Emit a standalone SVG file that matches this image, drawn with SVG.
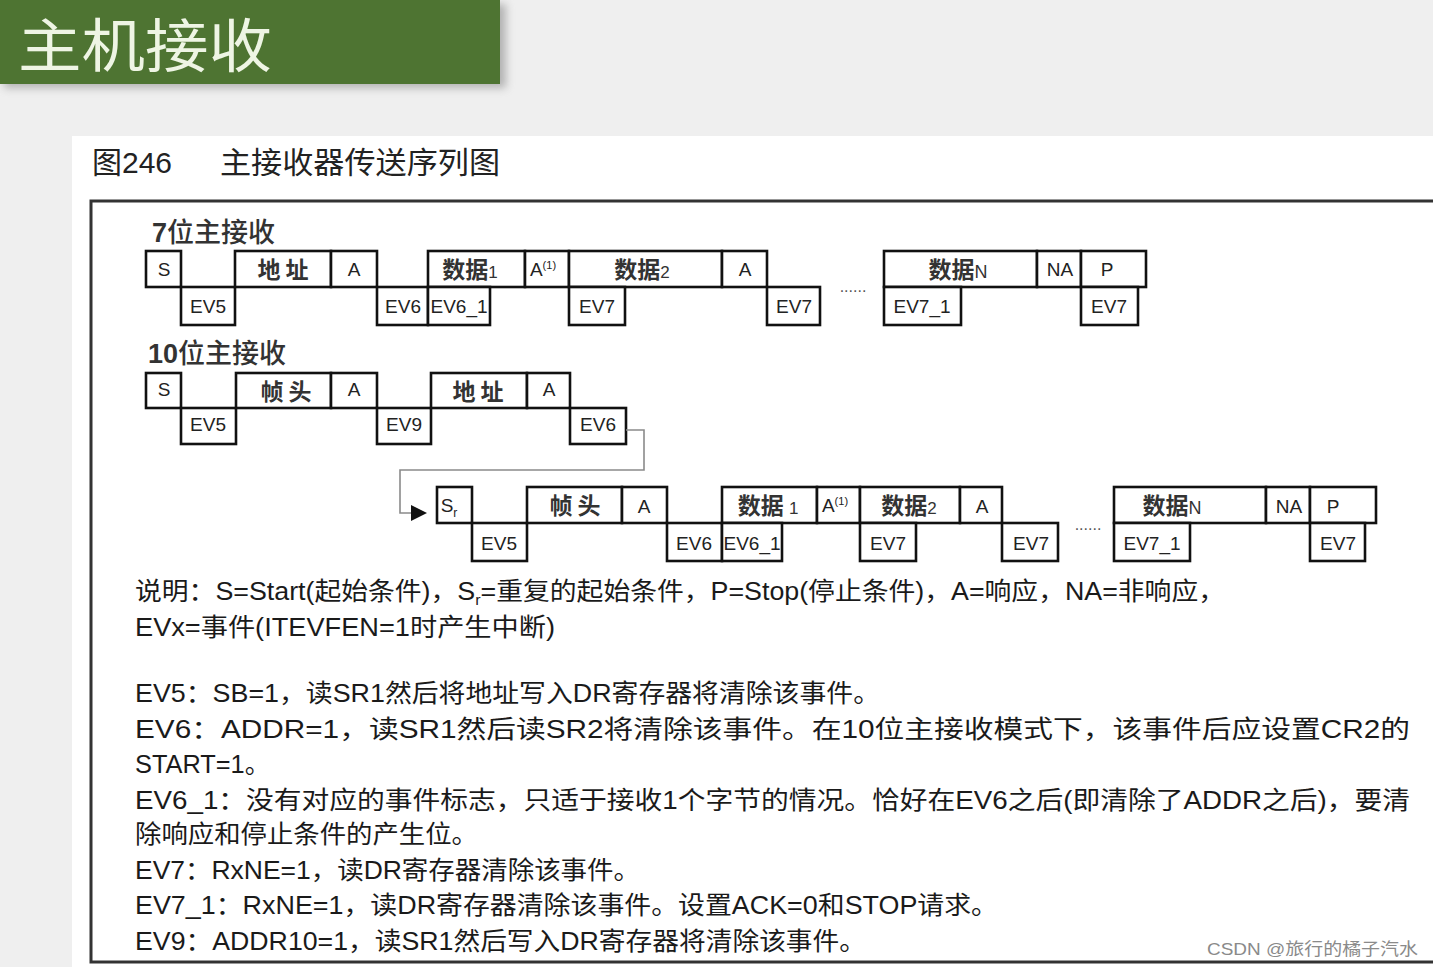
<svg xmlns="http://www.w3.org/2000/svg" width="1433" height="967" viewBox="0 0 1433 967">
<defs>
<style>
.bx{fill:#fff;stroke:#111;stroke-width:2.6}
.lb{font-family:"Liberation Sans","Noto Sans CJK SC",sans-serif;font-size:19px;fill:#222;text-anchor:middle}
.cn{font-family:"Noto Sans CJK SC","Liberation Sans",sans-serif;font-size:23px;font-weight:bold;fill:#333;text-anchor:middle}
.tx{font-family:"Liberation Sans","Noto Sans CJK SC",sans-serif;font-size:25px;fill:#1a1a1a}
.hd{font-family:"Noto Sans CJK SC","Liberation Sans",sans-serif;font-size:27px;font-weight:500;fill:#333}
.dot{font-family:"Liberation Sans",sans-serif;font-size:16px;fill:#555;text-anchor:middle}
</style>
<filter id="sh" x="-5%" y="-10%" width="115%" height="130%"><feGaussianBlur stdDeviation="4"/></filter>
</defs>
<rect x="0" y="0" width="1433" height="967" fill="#efefef"/>
<g id="header">
<rect x="4" y="4" width="502" height="84" fill="#777" opacity="0.5" filter="url(#sh)"/>
<rect x="0" y="0" width="500" height="84" fill="#4e7432"/>
<text x="18" y="67" font-family="Noto Sans CJK SC,sans-serif" font-size="58" fill="#eef5e4" textLength="254" lengthAdjust="spacingAndGlyphs">主机接收</text>
</g>
<rect x="72" y="136" width="1361" height="831" fill="#fff"/>
<g id="title">
<text x="92" y="173" font-family="Liberation Sans,Noto Sans CJK SC,sans-serif" font-size="30" fill="#222">图246</text>
<text x="220" y="173" font-family="Noto Sans CJK SC,sans-serif" font-size="30" fill="#222" textLength="280" lengthAdjust="spacingAndGlyphs">主接收器传送序列图</text>
</g>
<rect id="frame" x="91" y="201" width="1360" height="761" fill="none" stroke="#333" stroke-width="3"/>

<g id="row7">
<text class="hd" x="152" y="242"><tspan font-family="Liberation Sans" font-weight="bold">7</tspan>位主接收</text>
<rect class="bx" x="146" y="251" width="35" height="36"/><text class="lb" x="164" y="276" font-size="18">S</text>
<rect class="bx" x="181" y="287" width="54" height="38"/><text class="lb" x="208" y="313">EV5</text>
<rect class="bx" x="235" y="251" width="96" height="36"/><text class="cn" x="283" y="278">地 址</text>
<rect class="bx" x="331" y="251" width="46" height="36"/><text class="lb" x="354" y="276" font-size="17">A</text>
<rect class="bx" x="377" y="287" width="51" height="38"/><text class="lb" x="403" y="313">EV6</text>
<rect class="bx" x="428" y="251" width="97" height="36"/><text class="cn" x="470" y="278">数据<tspan font-size="17" font-weight="normal" font-family="Liberation Sans">1</tspan></text>
<rect class="bx" x="428" y="287" width="62" height="38"/><text class="lb" x="459" y="313">EV6_1</text>
<rect class="bx" x="525" y="251" width="44" height="36"/><text class="lb" x="543" y="276" font-size="16">A<tspan font-size="11" dy="-7">(1)</tspan></text>
<rect class="bx" x="569" y="251" width="153" height="36"/><text class="cn" x="642" y="278">数据<tspan font-size="17" font-weight="normal" font-family="Liberation Sans">2</tspan></text>
<rect class="bx" x="569" y="287" width="56" height="38"/><text class="lb" x="597" y="313">EV7</text>
<rect class="bx" x="722" y="251" width="45" height="36"/><text class="lb" x="745" y="276" font-size="17">A</text>
<rect class="bx" x="767" y="287" width="53" height="38"/><text class="lb" x="794" y="313">EV7</text>
<text class="dot" x="853" y="292">......</text>
<rect class="bx" x="884" y="251" width="153" height="36"/><text class="cn" x="958" y="278">数据<tspan font-size="18" font-weight="normal" font-family="Liberation Sans">N</tspan></text>
<rect class="bx" x="884" y="287" width="77" height="38"/><text class="lb" x="922" y="313">EV7_1</text>
<rect class="bx" x="1037" y="251" width="44" height="36"/><text class="lb" x="1060" y="276" font-size="18">NA</text>
<rect class="bx" x="1081" y="251" width="65" height="36"/><text class="lb" x="1107" y="276" font-size="18">P</text>
<rect class="bx" x="1081" y="287" width="57" height="38"/><text class="lb" x="1109" y="313">EV7</text>
</g>

<g id="row10">
<text class="hd" x="148" y="363"><tspan font-family="Liberation Sans" font-weight="bold">10</tspan>位主接收</text>
<rect class="bx" x="146" y="373" width="35" height="35"/><text class="lb" x="164" y="396" font-size="18">S</text>
<rect class="bx" x="181" y="408" width="55" height="36"/><text class="lb" x="208" y="431">EV5</text>
<rect class="bx" x="236" y="373" width="95" height="35"/><text class="cn" x="286" y="400">帧 头</text>
<rect class="bx" x="331" y="373" width="46" height="35"/><text class="lb" x="354" y="396" font-size="17">A</text>
<rect class="bx" x="377" y="408" width="54" height="36"/><text class="lb" x="404" y="431">EV9</text>
<rect class="bx" x="431" y="373" width="96" height="35"/><text class="cn" x="478" y="400">地 址</text>
<rect class="bx" x="527" y="373" width="43" height="35"/><text class="lb" x="549" y="396" font-size="17">A</text>
<rect class="bx" x="570" y="408" width="56" height="36"/><text class="lb" x="598" y="431">EV6</text>
</g>

<g id="connectors">
<polyline points="626,430 644,430 644,470 400,470 400,513 414,513" fill="none" stroke="#8a8a8a" stroke-width="1.6"/>
<polygon points="411,505 427,513 411,521" fill="#111"/>
</g>

<g id="row10b">
<rect class="bx" x="437" y="487" width="35" height="36"/><text class="lb" x="449" y="512" font-size="18">S<tspan font-size="12" dy="5">r</tspan></text>
<rect class="bx" x="472" y="523" width="55" height="38"/><text class="lb" x="499" y="550">EV5</text>
<rect class="bx" x="527" y="487" width="95" height="36"/><text class="cn" x="575" y="514">帧 头</text>
<rect class="bx" x="622" y="487" width="45" height="36"/><text class="lb" x="644" y="513" font-size="17">A</text>
<rect class="bx" x="667" y="523" width="55" height="38"/><text class="lb" x="694" y="550">EV6</text>
<rect class="bx" x="722" y="487" width="95" height="36"/><text class="cn" x="768" y="514">数据 <tspan font-size="17" font-weight="normal" font-family="Liberation Sans">1</tspan></text>
<rect class="bx" x="722" y="523" width="60" height="38"/><text class="lb" x="752" y="550">EV6_1</text>
<rect class="bx" x="817" y="487" width="43" height="36"/><text class="lb" x="835" y="512" font-size="16">A<tspan font-size="11" dy="-7">(1)</tspan></text>
<rect class="bx" x="860" y="487" width="100" height="36"/><text class="cn" x="909" y="514">数据<tspan font-size="17" font-weight="normal" font-family="Liberation Sans">2</tspan></text>
<rect class="bx" x="860" y="523" width="56" height="38"/><text class="lb" x="888" y="550">EV7</text>
<rect class="bx" x="960" y="487" width="42" height="36"/><text class="lb" x="982" y="513" font-size="17">A</text>
<rect class="bx" x="1002" y="523" width="56" height="38"/><text class="lb" x="1031" y="550">EV7</text>
<text class="dot" x="1088" y="530">......</text>
<rect class="bx" x="1114" y="487" width="152" height="36"/><text class="cn" x="1172" y="514">数据<tspan font-size="18" font-weight="normal" font-family="Liberation Sans">N</tspan></text>
<rect class="bx" x="1114" y="523" width="76" height="38"/><text class="lb" x="1152" y="550">EV7_1</text>
<rect class="bx" x="1266" y="487" width="44" height="36"/><text class="lb" x="1289" y="513" font-size="18">NA</text>
<rect class="bx" x="1310" y="487" width="66" height="36"/><text class="lb" x="1333" y="513" font-size="18">P</text>
<rect class="bx" x="1310" y="523" width="55" height="38"/><text class="lb" x="1338" y="550">EV7</text>
</g>

<g id="notes">
<text class="tx" x="135" y="600" textLength="1090" lengthAdjust="spacingAndGlyphs">说明：S=Start(起始条件)，S<tspan font-size="15" dy="5">r</tspan><tspan dy="-5">=重复的起始条件，P=Stop(停止条件)，A=响应，NA=非响应，</tspan></text>
<text class="tx" x="135" y="636" textLength="420" lengthAdjust="spacingAndGlyphs">EVx=事件(ITEVFEN=1时产生中断)</text>
<text class="tx" x="135" y="702" textLength="745" lengthAdjust="spacingAndGlyphs">EV5：SB=1，读SR1然后将地址写入DR寄存器将清除该事件。</text>
<text class="tx" x="135" y="738" textLength="1275" lengthAdjust="spacingAndGlyphs">EV6：ADDR=1，读SR1然后读SR2将清除该事件。在10位主接收模式下，该事件后应设置CR2的</text>
<text class="tx" x="135" y="773" textLength="135" lengthAdjust="spacingAndGlyphs">START=1。</text>
<text class="tx" x="135" y="809" textLength="1275" lengthAdjust="spacingAndGlyphs">EV6_1：没有对应的事件标志，只适于接收1个字节的情况。恰好在EV6之后(即清除了ADDR之后)，要清</text>
<text class="tx" x="135" y="843" textLength="343" lengthAdjust="spacingAndGlyphs">除响应和停止条件的产生位。</text>
<text class="tx" x="135" y="879" textLength="505" lengthAdjust="spacingAndGlyphs">EV7：RxNE=1，读DR寄存器清除该事件。</text>
<text class="tx" x="135" y="914" textLength="863" lengthAdjust="spacingAndGlyphs">EV7_1：RxNE=1，读DR寄存器清除该事件。设置ACK=0和STOP请求。</text>
<text class="tx" x="135" y="950" textLength="731" lengthAdjust="spacingAndGlyphs">EV9：ADDR10=1，读SR1然后写入DR寄存器将清除该事件。</text>
</g>
<text id="watermark" x="1207" y="955" font-family="Liberation Sans,Noto Sans CJK SC,sans-serif" font-size="17" fill="#8a8a8a" textLength="211" lengthAdjust="spacingAndGlyphs">CSDN @旅行的橘子汽水</text>
</svg>
